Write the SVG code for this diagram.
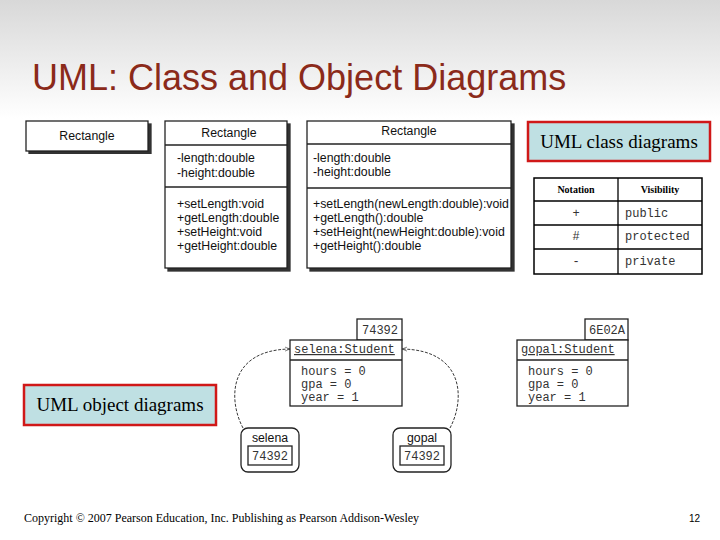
<svg xmlns="http://www.w3.org/2000/svg" width="720" height="540" viewBox="0 0 720 540">
<defs>
<linearGradient id="bg" x1="0" y1="0" x2="0" y2="1"><stop offset="0" stop-color="#d8d8d8"/><stop offset="0.22" stop-color="#ffffff"/></linearGradient>
<marker id="ah" viewBox="0 0 10 10" refX="10" refY="5" markerWidth="6" markerHeight="6" orient="auto"><path d="M0,1 L10,5 L0,9" fill="none" stroke="#222"/></marker>
<filter id="sh"><feDropShadow dx="3" dy="3" stdDeviation="0" flood-color="#333"/></filter>
</defs>
<style>
.box{fill:#fff;stroke:#222;stroke-width:1.3}
.s{font-family:"Liberation Sans",Arial,sans-serif;font-size:12.3px;fill:#111}
.m{font-family:"Liberation Mono","Courier New",monospace;font-size:12px;fill:#333}
.t{font-family:"Liberation Serif","Times New Roman",serif;fill:#000}
.ln{stroke:#222;stroke-width:1.3}
</style>
<rect width="720" height="540" fill="url(#bg)"/>
<text x="32" y="90" font-family="Liberation Sans,Arial,sans-serif" font-size="36" fill="#8b2a1a">UML: Class and Object Diagrams</text>

<g id="class1"><rect class="box" x="26" y="121" width="122" height="30" filter="url(#sh)"/><text class="s" x="87" y="140" text-anchor="middle">Rectangle</text></g>
<g id="class2"><rect class="box" x="165" y="121" width="122" height="147" filter="url(#sh)"/>
<line class="ln" x1="165" y1="145" x2="287" y2="145"/><line class="ln" x1="165" y1="187" x2="287" y2="187" stroke="#888"/>
<text class="s" x="229" y="137" text-anchor="middle">Rectangle</text>
<text class="s" x="177" y="162">-length:double</text><text class="s" x="177" y="177">-height:double</text>
<text class="s" x="177" y="208">+setLength:void</text><text class="s" x="177" y="222">+getLength:double</text><text class="s" x="177" y="236">+setHeight:void</text><text class="s" x="177" y="250">+getHeight:double</text></g>
<g id="class3"><rect class="box" x="307" y="121" width="204" height="147" filter="url(#sh)"/>
<line class="ln" x1="307" y1="144" x2="511" y2="144"/><line class="ln" x1="307" y1="188" x2="511" y2="188"/>
<text class="s" x="409" y="135" text-anchor="middle">Rectangle</text>
<text class="s" x="313" y="162">-length:double</text><text class="s" x="313" y="176">-height:double</text>
<text class="s" x="313" y="208">+setLength(newLength:double):void</text><text class="s" x="313" y="222">+getLength():double</text><text class="s" x="313" y="236">+setHeight(newHeight:double):void</text><text class="s" x="313" y="250">+getHeight():double</text></g>

<g id="label-class"><rect x="528" y="122" width="182" height="39" fill="#bfe0e3" stroke="#d01818" stroke-width="2.5"/><text class="t" x="619" y="148" font-size="19" text-anchor="middle">UML class diagrams</text></g>

<g id="table" font-size="10">
<rect x="534" y="178" width="168" height="96" fill="#fff" stroke="#000" stroke-width="1.5"/>
<line x1="618" y1="178" x2="618" y2="274" stroke="#000" stroke-width="1.3"/>
<line x1="534" y1="201" x2="702" y2="201" stroke="#000" stroke-width="1.3"/>
<line x1="534" y1="225" x2="702" y2="225" stroke="#000" stroke-width="1.3"/>
<line x1="534" y1="249" x2="702" y2="249" stroke="#000" stroke-width="1.3"/>
<text class="t" x="576" y="193" font-size="10" font-weight="bold" text-anchor="middle">Notation</text>
<text class="t" x="660" y="193" font-size="10" font-weight="bold" text-anchor="middle">Visibility</text>
<text class="m" x="576" y="217" font-size="10" text-anchor="middle">+</text><text class="m" x="625" y="217" font-size="10">public</text>
<text class="m" x="576" y="240" font-size="10" text-anchor="middle">#</text><text class="m" x="625" y="240" font-size="10">protected</text>
<text class="m" x="576" y="265" font-size="10" text-anchor="middle">-</text><text class="m" x="625" y="265" font-size="10">private</text>
</g>

<g id="obj-selena">
<rect class="box" x="357" y="319" width="45" height="21"/><text class="m" x="380" y="334" text-anchor="middle">74392</text>
<rect class="box" x="290" y="340" width="112" height="66"/><line class="ln" x1="290" y1="360" x2="402" y2="360"/>
<text class="m" x="294" y="353" text-decoration="underline">selena:Student</text>
<text class="m" x="301" y="375">hours = 0</text><text class="m" x="301" y="388" fill="#888">gpa = 0</text><text class="m" x="301" y="401">year = 1</text>
</g>
<g id="obj-gopal">
<rect class="box" x="585" y="319" width="43" height="21"/><text class="m" x="607" y="334" text-anchor="middle">6E02A</text>
<rect class="box" x="517" y="340" width="111" height="66"/><line class="ln" x1="517" y1="360" x2="628" y2="360"/>
<text class="m" x="521" y="353" text-decoration="underline">gopal:Student</text>
<text class="m" x="528" y="375">hours = 0</text><text class="m" x="528" y="388" fill="#888">gpa = 0</text><text class="m" x="528" y="401">year = 1</text>
</g>
<g id="ref-selena"><rect class="box" x="241" y="428" width="58" height="44" rx="7"/><text class="s" x="270" y="442" text-anchor="middle">selena</text>
<rect class="box" x="248" y="446" width="44" height="19" stroke-width="1"/><text class="m" x="270" y="460" text-anchor="middle">74392</text></g>
<g id="ref-gopal"><rect class="box" x="393" y="428" width="58" height="44" rx="7"/><text class="s" x="422" y="442" text-anchor="middle">gopal</text>
<rect class="box" x="400" y="446" width="44" height="19" stroke-width="1"/><text class="m" x="422" y="460" text-anchor="middle">74392</text></g>

<g id="connectors" fill="none" stroke="#222" stroke-width="0.9" stroke-dasharray="3,1.5">
<path d="M243,428 C228,400 228,350 290,349" marker-end="url(#ah)"/>
<path d="M450,428 C465,400 465,350 402,349" marker-end="url(#ah)"/>
</g>

<g id="label-object"><rect x="24" y="385" width="192" height="40" fill="#bfe0e3" stroke="#d01818" stroke-width="2.5"/><text class="t" x="120" y="411" font-size="19" text-anchor="middle">UML object diagrams</text></g>

<text class="t" x="24" y="522" font-size="12">Copyright © 2007 Pearson Education, Inc. Publishing as Pearson Addison-Wesley</text>
<text x="700" y="522" font-family="Liberation Sans,Arial,sans-serif" font-size="10" text-anchor="end">12</text>
</svg>
